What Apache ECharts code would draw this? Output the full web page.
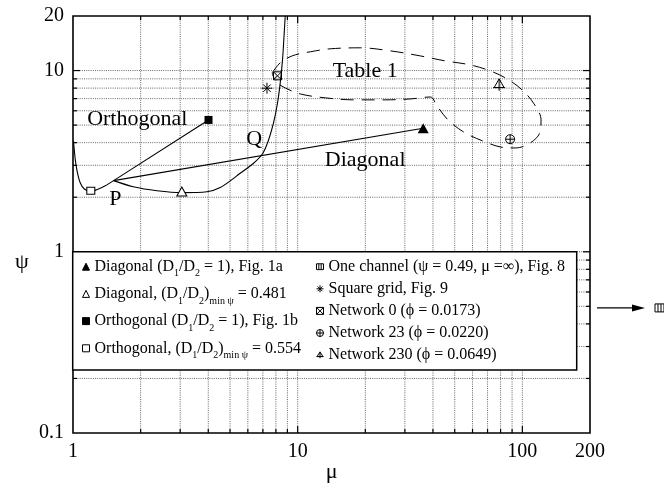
<!DOCTYPE html>
<html><head><meta charset="utf-8">
<script src="https://cdn.jsdelivr.net/npm/echarts@6/dist/echarts.min.js"></script>
<style>html,body{margin:0;padding:0;background:#fff}#c{width:664px;height:484px}</style>
</head><body><div id="c"></div>
<script>
const FONT = '"Liberation Serif", "Times New Roman", serif';

// ---- axes ----
const xRange = [1, 200];
const yRange = [0.1, 20];
const xTickValues = [1, 10, 100, 200];
const xTickLabels = ['1', '10', '100', '200'];
const yTickValues = [0.1, 1, 10, 20];
const yTickLabels = ['0.1', '1', '10', '20'];
const xMajorTicks = [10, 100];
const xMinorTicks = [2, 3, 4, 5, 6, 7, 8, 9, 20, 30, 40, 50, 60, 70, 80, 90];
const yMajorTicks = [1, 10];
const yMinorTicks = [0.2, 0.3, 0.4, 0.5, 0.6, 0.7, 0.8, 0.9, 2, 3, 4, 5, 6, 7, 8, 9];

// ---- curves ----
const orthoCurveMu  = [1.005, 1.024, 1.045, 1.078, 1.123, 1.2, 1.35, 1.516];
const orthoCurvePsi = [4.1, 3.21, 2.755, 2.396, 2.22, 2.16, 2.27, 2.47];
const diagCurveMu  = [1.516, 1.854, 2.364, 3.054, 3.946, 4.52, 5.55, 6.36, 7.0, 7.42, 7.80, 8.13, 8.36, 8.56, 8.71, 8.80];
const diagCurvePsi = [2.47, 2.286, 2.173, 2.12, 2.145, 2.26, 2.71, 3.08, 3.50, 4.14, 5.12, 6.60, 8.52, 11.45, 16.09, 20];
const orthoLineMu  = [1.516, 4.01];
const orthoLinePsi = [2.47, 5.34];
const diagLineMu  = [1.516, 36.2];
const diagLinePsi = [2.47, 4.8];
const tableMu  = [7.70, 8.36, 9.45, 11.37, 13.95, 18.97, 25.79, 35.07, 45.31, 58.54, 71.84, 85.50, 99.7, 112.7, 121.1, 119.9, 108.2, 92.8, 79.6, 68.3, 55.6, 46.7, 41.7, 38.9, 31.65, 24.5, 18.0, 13.26, 10.26, 8.80, 8.02, 7.70];
const tablePsi = [9.71, 11.03, 12.05, 12.69, 13.18, 13.35, 12.85, 12.05, 11.31, 10.75, 9.96, 9.0, 7.82, 6.55, 5.34, 4.58, 3.98, 3.74, 3.79, 4.04, 4.53, 5.34, 6.38, 7.15, 6.97, 6.89, 6.89, 7.07, 7.43, 8.02, 8.66, 9.71];

// ---- points ----
const diagFig1aPt   = [36.2, 4.8];
const diagMinPt     = [3.05, 2.15];
const orthoFig1bPt  = [4.01, 5.34];
const orthoMinPt    = [1.2, 2.17];
const squareGridPt  = [7.30, 7.99];
const network0Pt    = [8.13, 9.35];
const network23Pt   = [88.2, 4.18];
const network230Pt  = [78.8, 8.34];
const oneChannelPsi = 0.49;   // mu = infinity (drawn as arrow beyond the axis)

// ---- annotations ----
const noteTexts = ['Orthogonal', 'Diagonal', 'Table 1', 'P', 'Q'];
const noteMu    = [1.932, 19.97, 19.97, 1.543, 6.405];
const notePsi   = [5.37, 3.21, 9.87, 1.954, 4.19];

// ---- legend names ----
const seriesNames = [
  'Diagonal (D1/D2 = 1), Fig. 1a',
  'Diagonal, (D1/D2)min ψ = 0.481',
  'Orthogonal (D1/D2 = 1), Fig. 1b',
  'Orthogonal, (D1/D2)min ψ = 0.554',
  'One channel (ψ = 0.49, μ =∞), Fig. 8',
  'Square grid, Fig. 9',
  'Network 0 (ϕ = 0.0173)',
  'Network 23 (ϕ = 0.0220)',
  'Network 230 (ϕ = 0.0649)'
];
const legendRich = [
  'Diagonal (D{s|1}/D{s|2} = 1), Fig. 1a',
  'Diagonal, (D{s|1}/D{s|2}){s|min ψ} = 0.481',
  'Orthogonal (D{s|1}/D{s|2} = 1), Fig. 1b',
  'Orthogonal, (D{s|1}/D{s|2}){s|min ψ} = 0.554',
  'One channel (ψ = 0.49, μ =∞), Fig. 8',
  'Square grid, Fig. 9',
  'Network 0 (ϕ = 0.0173)',
  'Network 23 (ϕ = 0.0220)',
  'Network 230 (ϕ = 0.0649)'
];

const SYM = {
  asterisk: 'path://M0,5L10,5M5,0L5,10M1.6,1.6L8.4,8.4M8.4,1.6L1.6,8.4',
  boxX: 'path://M0,0L10,0L10,10L0,10ZM0,0L10,10M10,0L0,10',
  circPlus: 'path://M0,5A5,5,0,1,1,10,5A5,5,0,1,1,0,5ZM0,5L10,5M5,0L5,10',
  triPlus: 'path://M5,0L10,8L0,8ZM5,0L5,11M-1,8L11,8',
  oneCh: 'path://M0,0L12,0L12,10L0,10ZM4,0L4,10M8,0L8,10'
};

const zip = (a, b) => a.map((v, i) => [v, b[i]]);
const BLACK = '#000';
const tickStyle = { stroke: BLACK, lineWidth: 1.2 };
const gridStyle = { stroke: '#666', lineWidth: 1, lineDash: [1, 1.2] };

function xGridSeries() {
  return {
    type: 'custom', name: 'xgrid', z: 1, silent: true, clip: false,
    data: xMinorTicks.concat(xMajorTicks).map(v => [v, yRange[0]]),
    renderItem: (p, api) => {
      const v = api.value(0);
      const a = api.coord([v, yRange[0]]), b = api.coord([v, yRange[1]]);
      return { type: 'line', shape: { x1: a[0], y1: a[1], x2: b[0], y2: b[1] }, style: gridStyle };
    }
  };
}
function yGridSeries() {
  return {
    type: 'custom', name: 'ygrid', z: 1, silent: true, clip: false,
    data: yMinorTicks.concat(yMajorTicks).map(v => [xRange[0], v]),
    renderItem: (p, api) => {
      const v = api.value(1);
      const a = api.coord([xRange[0], v]), b = api.coord([xRange[1], v]);
      return { type: 'line', shape: { x1: a[0], y1: a[1], x2: b[0], y2: b[1] }, style: gridStyle };
    }
  };
}
function xTickSeries() {
  return {
    type: 'custom', name: 'xticks', z: 3, silent: true, clip: false,
    dimensions: ['x', 'y', 'm'], encode: { x: 0, y: 1 },
    data: xMajorTicks.map(v => [v, yRange[0], 1]).concat(xMinorTicks.map(v => [v, yRange[0], 0])),
    renderItem: (p, api) => {
      const v = api.value(0), len = api.value(2) ? 7 : 4;
      const b = api.coord([v, yRange[0]]), t = api.coord([v, yRange[1]]);
      return { type: 'group', children: [
        { type: 'line', shape: { x1: b[0], y1: b[1], x2: b[0], y2: b[1] - len }, style: tickStyle },
        { type: 'line', shape: { x1: t[0], y1: t[1], x2: t[0], y2: t[1] + len }, style: tickStyle }
      ] };
    }
  };
}
function yTickSeries() {
  return {
    type: 'custom', name: 'yticks', z: 3, silent: true, clip: false,
    dimensions: ['x', 'y', 'm'], encode: { x: 0, y: 1 },
    data: yMajorTicks.map(v => [xRange[0], v, 1]).concat(yMinorTicks.map(v => [xRange[0], v, 0])),
    renderItem: (p, api) => {
      const v = api.value(1), len = api.value(2) ? 7 : 4;
      const l = api.coord([xRange[0], v]), r = api.coord([xRange[1], v]);
      return { type: 'group', children: [
        { type: 'line', shape: { x1: l[0], y1: l[1], x2: l[0] + len, y2: l[1] }, style: tickStyle },
        { type: 'line', shape: { x1: r[0], y1: r[1], x2: r[0] - len, y2: r[1] }, style: tickStyle }
      ] };
    }
  };
}
function tickLabelSeries() {
  const data = xTickValues.map((v, i) => [v, yRange[0], 0, i])
    .concat(yTickValues.map((v, i) => [xRange[0], v, 1, i]));
  return {
    type: 'custom', name: 'ticklabels', z: 3, silent: true, clip: false,
    dimensions: ['x', 'y', 'axis', 'idx'], encode: { x: 0, y: 1 },
    data,
    renderItem: (p, api) => {
      const pt = api.coord([api.value(0), api.value(1)]);
      const isY = api.value(2) === 1, i = api.value(3);
      return {
        type: 'text',
        x: isY ? pt[0] - 9 : pt[0],
        y: isY ? pt[1] : pt[1] + 19,
        style: {
          text: isY ? yTickLabels[i] : xTickLabels[i],
          fontSize: 20, fontFamily: FONT, fill: BLACK,
          align: isY ? 'right' : 'center', verticalAlign: 'middle'
        }
      };
    }
  };
}
function noteSeries() {
  return {
    type: 'custom', name: 'notes', z: 4, silent: true, clip: false,
    dimensions: ['x', 'y', 'idx'], encode: { x: 0, y: 1 },
    data: noteMu.map((m, i) => [m, notePsi[i], i]),
    renderItem: (p, api) => {
      const pt = api.coord([api.value(0), api.value(1)]);
      return { type: 'text', x: pt[0], y: pt[1], style: {
        text: noteTexts[api.value(2)], fontSize: 22, fontFamily: FONT, fill: BLACK,
        align: 'center', verticalAlign: 'middle' } };
    }
  };
}
function arrowSeries() {
  return {
    type: 'custom', name: 'oneChannelArrow', z: 4, silent: true, clip: false,
    data: [[xRange[1], oneChannelPsi]],
    renderItem: (p, api) => {
      const pt = api.coord([api.value(0), api.value(1)]);
      const x = pt[0], y = pt[1];
      return { type: 'group', children: [
        { type: 'line', shape: { x1: x + 7, y1: y, x2: x + 44, y2: y }, style: { stroke: BLACK, lineWidth: 1.2 } },
        { type: 'polygon', shape: { points: [[x + 42, y - 3.5], [x + 55, y], [x + 42, y + 3.5]] }, style: { fill: BLACK } },
        { type: 'rect', shape: { x: x + 65, y: y - 4, width: 9, height: 8 }, style: { fill: 'none', stroke: BLACK, lineWidth: 1 } },
        { type: 'line', shape: { x1: x + 68, y1: y - 4, x2: x + 68, y2: y + 4 }, style: { stroke: BLACK, lineWidth: 1 } },
        { type: 'line', shape: { x1: x + 71, y1: y - 4, x2: x + 71, y2: y + 4 }, style: { stroke: BLACK, lineWidth: 1 } }
      ] };
    }
  };
}

const lineSeries = (name, mu, psi, smooth) => ({
  type: 'line', name, data: zip(mu, psi), showSymbol: false, smooth, silent: true,
  lineStyle: { color: BLACK, width: 1.1 }, z: 3
});
const pointSeries = (name, pt, symbol, size, fill) => ({
  type: 'scatter', name, data: pt ? [pt] : [], symbol, symbolSize: size, silent: true, z: 5,
  itemStyle: { color: fill, borderColor: BLACK, borderWidth: fill === BLACK ? 0 : 1, opacity: 1 }
});

const legendText = (lh) => ({
  fontFamily: FONT, fontSize: 16, lineHeight: lh, color: BLACK,
  rich: { s: { fontFamily: FONT, fontSize: 10, lineHeight: 10, verticalAlign: 'bottom', color: BLACK } }
});
const fmt = n => legendRich[seriesNames.indexOf(n)];

const option = {
  animation: false,
  backgroundColor: '#fff',
  grid: { left: 73, right: 74, top: 16, bottom: 51, show: true, borderColor: BLACK, borderWidth: 1.6, backgroundColor: 'transparent', z: 6 },
  xAxis: { type: 'log', logBase: 10, min: xRange[0], max: xRange[1],
    axisLine: { show: false }, axisTick: { show: false }, axisLabel: { show: false }, splitLine: { show: false } },
  yAxis: { type: 'log', logBase: 10, min: yRange[0], max: yRange[1],
    axisLine: { show: false }, axisTick: { show: false }, axisLabel: { show: false }, splitLine: { show: false } },
  legend: [
    { data: seriesNames.slice(0, 4), orient: 'vertical', left: 82, top: 254.7, itemGap: 3.2, padding: 0,
      itemWidth: 7, itemHeight: 7, selectedMode: false, z: 20, formatter: fmt, textStyle: legendText(24),
      itemStyle: { borderWidth: 1 } },
    { data: seriesNames.slice(4), orient: 'vertical', left: 316, top: 255.7, itemGap: 0.1, padding: 0,
      itemWidth: 7, itemHeight: 7, selectedMode: false, z: 20, formatter: fmt, textStyle: legendText(22),
      itemStyle: { borderWidth: 1 } }
  ],
  graphic: [
    { type: 'rect', z: 10, shape: { x: 72.7, y: 251.7, width: 504, height: 118.3 },
      style: { fill: '#fff', stroke: BLACK, lineWidth: 1.5 } },
    { type: 'text', z: 10, x: 22, y: 262, style: { text: 'ψ', fontSize: 22, fontFamily: FONT, fill: BLACK, align: 'center', verticalAlign: 'middle' } },
    { type: 'text', z: 10, x: 331.7, y: 472, style: { text: 'μ', fontSize: 22, fontFamily: FONT, fill: BLACK, align: 'center', verticalAlign: 'middle' } }
  ],
  series: [
    xGridSeries(), yGridSeries(), xTickSeries(), yTickSeries(), tickLabelSeries(), noteSeries(), arrowSeries(),
    lineSeries('orthoCurve', orthoCurveMu, orthoCurvePsi, 0.3),
    lineSeries('diagCurve', diagCurveMu, diagCurvePsi, 0.3),
    lineSeries('orthoLine', orthoLineMu, orthoLinePsi, false),
    lineSeries('diagLine', diagLineMu, diagLinePsi, false),
    Object.assign(lineSeries('table1', tableMu, tablePsi, 0.35), { lineStyle: { color: BLACK, width: 1, type: [13, 8] } }),
    pointSeries(seriesNames[0], diagFig1aPt, 'triangle', [11, 10], BLACK),
    pointSeries(seriesNames[1], diagMinPt, 'triangle', [10, 9], '#fff'),
    pointSeries(seriesNames[2], orthoFig1bPt, 'rect', 8, BLACK),
    pointSeries(seriesNames[3], orthoMinPt, 'rect', [8, 7], '#fff'),
    pointSeries(seriesNames[4], null, SYM.oneCh, [9, 8], 'rgba(0,0,0,0)'),
    pointSeries(seriesNames[5], squareGridPt, SYM.asterisk, 11, 'rgba(0,0,0,0)'),
    pointSeries(seriesNames[6], network0Pt, SYM.boxX, 8, 'rgba(0,0,0,0)'),
    pointSeries(seriesNames[7], network23Pt, SYM.circPlus, 9, 'rgba(0,0,0,0)'),
    pointSeries(seriesNames[8], network230Pt, SYM.triPlus, 12, 'rgba(0,0,0,0)')
  ]
};

const chart = echarts.init(document.getElementById('c'), null, { renderer: 'canvas' });
chart.setOption(option);
</script></body></html>
